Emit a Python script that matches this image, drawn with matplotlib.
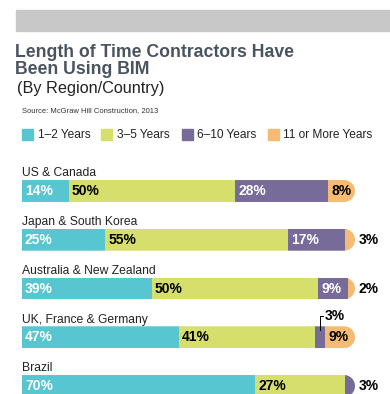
import numpy as np
import matplotlib.pyplot as plt
from matplotlib.patches import Polygon, Rectangle

regions = ['US & Canada', 'Japan & South Korea', 'Australia & New Zealand',
           'UK, France & Germany', 'Brazil']
series = ['1–2 Years', '3–5 Years', '6–10 Years', '11 or More Years']
yrs_1_2 = [14, 25, 39, 47, 70]
yrs_3_5 = [50, 55, 50, 41, 27]
yrs_6_10 = [28, 17, 9, 3, 3]
yrs_11_plus = [8, 3, 2, 9, 0]

colors = ['#58c6d1', '#d6df6b', '#776b99', '#f6bb72']
text_colors = ['white', 'black', 'white', 'black']

W, H = 390, 394
plt.rcParams['font.family'] = ['Liberation Sans', 'DejaVu Sans']


def fx(x):
    return x / W


def fy(y):
    return 1 - y / H


fig = plt.figure(figsize=(W / 100, H / 100), dpi=100)

# header
fig.patches.append(Rectangle((fx(16), fy(31)), 1, 21 / H, color='#c8c8c8',
                             transform=fig.transFigure, zorder=0))
title_col = '#4a5461'
fig.text(fx(15), fy(56.7), 'Length of Time Contractors Have', fontsize=12.7,
         fontweight='bold', color=title_col, va='baseline')
fig.text(fx(15), fy(73.5), 'Been Using BIM', fontsize=12.7,
         fontweight='bold', color=title_col, va='baseline')
fig.text(fx(17), fy(93), '(By Region/Country)', fontsize=11.7,
         color='#222222', va='baseline')
fig.text(fx(22), fy(111.7), 'Source: McGraw Hill Construction, 2013',
         fontsize=5.5, color='#333333', va='baseline')

# legend
sq_x = [22.3, 101, 181.7, 268.3]
txt_x = [38.3, 116.7, 197, 283.3]
for name, col, sx, tx in zip(series, colors, sq_x, txt_x):
    fig.patches.append(Rectangle((fx(sx), fy(140)), 11 / W, 11 / H,
                                 color=col, transform=fig.transFigure))
    fig.text(fx(tx), fy(135), name, fontsize=8.6, color='#222222',
             va='center')

# bars
ax = fig.add_axes([fx(22), 0, 333 / W, (H - 150) / H])
ax.set_xlim(0, 100)
ax.set_ylim(4.164, -0.841)
ax.axis('off')

h = 0.45
ypos = np.arange(len(regions))
data = np.array([yrs_1_2, yrs_3_5, yrs_6_10, yrs_11_plus])
lefts = np.vstack([np.zeros(len(regions)), np.cumsum(data, axis=0)[:-1]])

p0 = ax.transData.transform((0, 0))
px_x = ax.transData.transform((1, 0))[0] - p0[0]
px_y = abs(ax.transData.transform((0, 1))[1] - p0[1])
ry = h / 2
rx = ry * px_y / px_x

# rounded right end, each bar's segments are clipped to it
clips = []
for y in ypos:
    t = np.linspace(np.pi / 2, -np.pi / 2, 60)
    arc = np.column_stack([100 - rx + rx * np.cos(t), y - ry * np.sin(t)])
    verts = np.vstack([[-10, y - ry], arc, [-10, y + ry]])
    clip = Polygon(verts, closed=True, transform=ax.transData,
                   facecolor='none', edgecolor='none')
    ax.add_patch(clip)
    clips.append(clip)

for k in range(len(series)):
    bars = ax.barh(ypos, data[k], left=lefts[k], height=h, color=colors[k],
                   linewidth=0)
    for bar, clip in zip(bars, clips):
        bar.set_clip_path(clip)

for i, name in enumerate(regions):
    ax.text(0, ypos[i] - 0.3, name, fontsize=8.7, color='#222222',
            va='baseline')
    row = data[:, i]
    last = max(k for k in range(len(series)) if row[k] > 0)
    for k in range(len(series)):
        v = row[k]
        if v == 0:
            continue
        lab = f'{v}%'
        if v >= 5:
            ax.text(lefts[k, i] + 0.9, ypos[i], lab, fontsize=10,
                    fontweight='bold', color=text_colors[k], va='center')
        elif k == last:
            ax.text(101.2, ypos[i], lab, fontsize=10, fontweight='bold',
                    color='black', va='center')
        else:
            xc = lefts[k, i] + v / 2
            ax.plot([xc, xc, xc + 1], [ypos[i] - 0.15, ypos[i] - 0.43,
                    ypos[i] - 0.43], color='black', lw=0.7)
            ax.text(xc + 1.4, ypos[i] - 0.43, lab, fontsize=10,
                    fontweight='bold', color='black', va='center')

fig.savefig('out.png', dpi=100)
